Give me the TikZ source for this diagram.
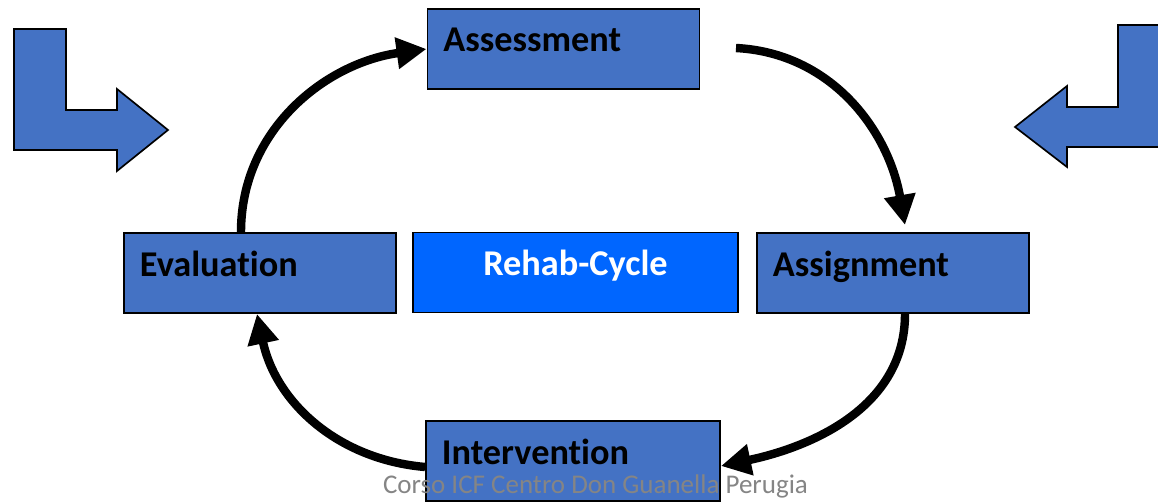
\documentclass[tikz,border=0pt]{standalone}
\usepackage{fontspec}
\setmainfont[Ligatures=NoCommon]{Carlito}
\usepackage{tikz}
\usetikzlibrary{arrows.meta}
\definecolor{boxblue}{HTML}{4472C4}
\definecolor{cycleblue}{HTML}{0066FF}
\definecolor{footgray}{HTML}{858585}

\begin{document}
\begin{tikzpicture}[x=0.025cm,y=0.025cm,
	phase_node/.style={rectangle,draw=black,line width=1.3pt,fill=boxblue,text width=6cm,align=left,inner xsep=0.4cm,inner ysep=0pt,text height=1.075cm,text depth=0.925cm,font=\fontsize{25.8pt}{30pt}\selectfont\bfseries},
	cycle_arrow/.style={line width=6pt,-{Triangle[length=0.75cm,width=0.75cm]}},
	bent_shape/.style={fill=boxblue,draw=black,line width=1.2pt,line join=miter}]
	\useasboundingbox (0,0) rectangle (1158,501);
	\clip (0,0) rectangle (1158,501);
	% side arrows
	\draw[bent_shape] (14,472) -- (66,472) -- (66,391) -- (117,391) -- (117,412) -- (168,371) -- (117,330) -- (117,351) -- (14,351) -- cycle;
	\draw[bent_shape] (1118,476) -- (1170,476) -- (1170,354) -- (1067,354) -- (1067,334) -- (1015,374) -- (1067,415) -- (1067,394) -- (1118,394) -- cycle;
	% boxes
	\node[phase_node] (assess) at (563.5,452) {Assessment};
	\node[phase_node] (eval) at (260,228) {Evaluation};
	\node[phase_node] (assign) at (893,228) {Assignment};
	\node[phase_node,text width=6.55cm] (interv) at (573,40) {Intervention};
	\node[phase_node,fill=cycleblue,text=white,align=center,text width=7.325cm] (rehab) at (575.5,228.5) {Rehab-Cycle};
	\coordinate (eval_out) at ([xshift=-0.475cm]eval.north);
	\coordinate (assess_out) at (736,453);
	\coordinate (assign_in) at (905,276);
	\coordinate (assign_out) at ([xshift=0.3cm]assign.south);
	\coordinate (interv_in) at ([yshift=-0.125cm]interv.east);
	\coordinate (interv_out) at ([yshift=-0.15cm]interv.west);
	\coordinate (eval_in) at ([xshift=-0.075cm]eval.south);
	\draw[cycle_arrow] (eval_out) to[out=90,in=188] (assess.west);
	\draw[cycle_arrow] (assess_out) to[out=-3,in=100] (assign_in);
	\draw[cycle_arrow] (assign_out) to[out=-90,in=12] (interv_in);
	\draw[cycle_arrow] (interv_out) to[out=175,in=-78] (eval_in);
	\node[font=\fontsize{19.2pt}{22pt}\selectfont,text=footgray,anchor=base] (footer) at (595.5,8) {Corso ICF Centro Don Guanella Perugia};
\end{tikzpicture}
\end{document}
